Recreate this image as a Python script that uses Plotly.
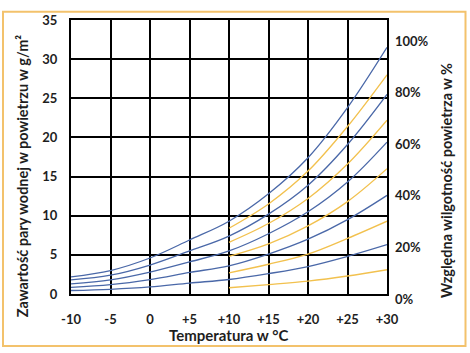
import plotly.graph_objects as go

# Temperature points (°C)
temps_full = [-10, -5, 0, 5, 10, 15, 20, 25, 30]
temps_warm = [10, 15, 20, 25, 30]

# Blue curves (relative humidity 100, 80, 60, 40, 20 %) — water vapour content in g/m³
rh100 = [2.2, 3.0, 4.6, 6.9, 9.3, 12.8, 17.4, 23.8, 31.5]
rh80 = [1.8, 2.4, 3.7, 5.5, 7.4, 10.2, 13.9, 19.1, 25.5]
rh60 = [1.3, 1.8, 2.8, 4.1, 5.5, 7.7, 10.5, 14.3, 19.4]
rh40 = [0.85, 1.2, 1.85, 2.75, 3.6, 5.1, 7.0, 9.5, 12.6]
rh20 = [0.45, 0.6, 0.9, 1.4, 1.85, 2.6, 3.5, 4.8, 6.3]

# Orange curves (relative humidity 90, 70, 50, 30, 10 %) from +10 °C
rh90 = [8.4, 11.5, 15.7, 21.4, 28.0]
rh70 = [6.6, 9.0, 12.2, 16.6, 22.2]
rh50 = [4.8, 6.4, 8.7, 11.8, 16.0]
rh30 = [2.7, 3.8, 5.1, 7.1, 9.3]
rh10 = [0.8, 1.2, 1.65, 2.3, 3.1]

x_ticks = [-10, -5, 0, 5, 10, 15, 20, 25, 30]
x_labels = ["-10", "-5", "0", "+5", "+10", "+15", "+20", "+25", "+30"]
y_ticks = [0, 5, 10, 15, 20, 25, 30, 35]
rh_ticks = [0, 20, 40, 60, 80, 100]
rh_labels = ["0%", "20%", "40%", "60%", "80%", "100%"]

BLUE = "#4a68a8"
ORANGE = "#f2c14e"
FONT = dict(family="Lato", size=13, color="#1e1e1e", weight="bold")
TFONT = dict(family="Lato", size=14.5, color="#1e1e1e", weight="bold")

RH_RANGE = [1.77, 108]

fig = go.Figure()
for ys in [rh100, rh80, rh60, rh40, rh20]:
    fig.add_trace(go.Scatter(x=temps_full, y=ys, mode="lines",
                             line=dict(color=BLUE, width=1.3, shape="spline"),
                             showlegend=False, hoverinfo="skip"))
for ys in [rh90, rh70, rh50, rh30, rh10]:
    fig.add_trace(go.Scatter(x=temps_warm, y=ys, mode="lines",
                             line=dict(color=ORANGE, width=1.3, shape="spline"),
                             showlegend=False, hoverinfo="skip"))
# invisible trace for the right axis
fig.add_trace(go.Scatter(x=[-10], y=[50], yaxis="y2", mode="markers",
                         marker=dict(opacity=0), showlegend=False, hoverinfo="skip"))

L, R, T, B = 71, 83, 12, 59
W, H = 470, 353
pw, ph = W - L - R, H - T - B

def px(x):
    return (x - L) / pw

def py(y):
    return (H - B - y) / ph

annotations = [
    dict(text="Zawartość pary wodnej w powietrzu w g/m²", xref="paper", yref="paper",
         x=px(22.7), y=py(173), textangle=-90, showarrow=False, font=TFONT,
         xanchor="center", yanchor="middle"),
    dict(text="Względna wilgotność powietrza w %", xref="paper", yref="paper",
         x=px(446.7), y=py(177), textangle=-90, showarrow=False, font=TFONT,
         xanchor="center", yanchor="middle"),
    dict(text="Temperatura w °C", xref="paper", yref="paper",
         x=px(228), y=py(336), showarrow=False, font=dict(TFONT, size=15),
         xanchor="center", yanchor="middle"),
]
for v, t in zip(rh_ticks, rh_labels):
    yp = (v - RH_RANGE[0]) / (RH_RANGE[1] - RH_RANGE[0])
    annotations.append(dict(text=t, xref="paper", yref="paper", x=px(393), y=yp,
                            showarrow=False, font=FONT, xanchor="left",
                            yanchor="middle"))

fig.update_layout(
    width=W, height=H,
    margin=dict(l=L, r=R, t=T, b=B, pad=0),
    paper_bgcolor="white", plot_bgcolor="white",
    font=FONT,
    xaxis=dict(range=[-10, 30], tickvals=x_ticks, ticktext=x_labels,
               showgrid=True, gridcolor="black", gridwidth=2,
               showline=True, linecolor="black", linewidth=2, mirror=True,
               zeroline=False, ticks="", ticklabelstandoff=12,
               tickfont=FONT),
    yaxis=dict(range=[0, 35], tickvals=y_ticks,
               showgrid=True, gridcolor="black", gridwidth=2,
               showline=True, linecolor="black", linewidth=2, mirror=True,
               zeroline=False, ticks="", ticklabelstandoff=9,
               tickfont=FONT),
    yaxis2=dict(range=RH_RANGE, overlaying="y", side="right",
                showticklabels=False, showgrid=False,
                zeroline=False, showline=False, ticks=""),
    annotations=annotations,
    shapes=[
        dict(type="rect", xref="paper", yref="paper",
             x0=px(3), x1=px(465.5), y0=py(347.5), y1=py(3.5),
             line=dict(color="#f3c26c", width=2), fillcolor="rgba(0,0,0,0)", layer="below"),
    ],
)

fig.write_html("out.html")
